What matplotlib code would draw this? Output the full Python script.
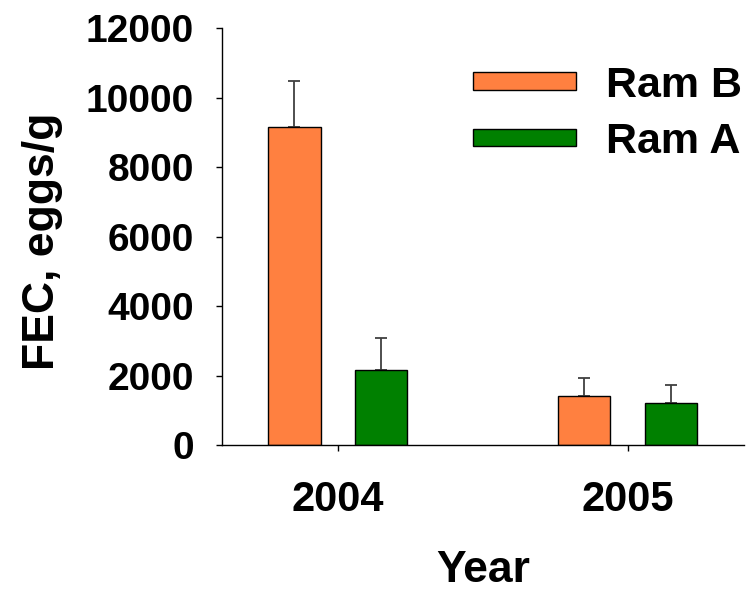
import numpy as np
import matplotlib
matplotlib.use('Agg')
import matplotlib.pyplot as plt

plt.rcParams['font.family'] = ['Liberation Sans', 'DejaVu Sans']
plt.rcParams['font.weight'] = 'bold'

# data
years = ['2004', '2005']
ram_b = [9160, 1427]
ram_b_err = [1315, 500]
ram_a = [2167, 1209]
ram_a_err = [921, 535]

col_b = '#FF8040'
col_a = '#008000'

fig = plt.figure(figsize=(7.52, 5.97), dpi=100)
ax = fig.add_axes([0.2952, 0.2541, 0.6938, 0.6985])

x = np.arange(len(years))
w = 0.18
off = 0.15

ax.bar(x - off, ram_b, w, color=col_b, edgecolor='black', linewidth=1, label='Ram B', zorder=2)
ax.bar(x + off, ram_a, w, color=col_a, edgecolor='black', linewidth=1, label='Ram A', zorder=2)

# upper error bars only
ax.errorbar(x - off, ram_b, yerr=[np.zeros(len(ram_b)), ram_b_err], fmt='none',
            ecolor='#404040', elinewidth=1.3, capsize=4.2, capthick=1.3, zorder=1)
ax.errorbar(x + off, ram_a, yerr=[np.zeros(len(ram_a)), ram_a_err], fmt='none',
            ecolor='#404040', elinewidth=1.3, capsize=4.2, capthick=1.3, zorder=1)

ax.set_xlim(-0.4, 1.4)
ax.set_ylim(0, 12000)
ax.set_yticks(np.arange(0, 12001, 2000))
ax.set_xticks(x)
ax.set_xticklabels(years)

for s in ['top', 'right']:
    ax.spines[s].set_visible(False)
for s in ['left', 'bottom']:
    ax.spines[s].set_linewidth(1.0)

ax.tick_params(axis='y', direction='out', length=4.3, width=1, labelsize=28, pad=16)
ax.tick_params(axis='x', direction='out', length=4.3, width=1, labelsize=30, pad=21)

ax.set_xlabel('Year', fontsize=32, fontweight='bold', labelpad=21)
ax.set_ylabel('FEC, eggs/g', fontsize=32, fontweight='bold')
ax.yaxis.set_label_coords(-0.305, 0.49)

leg = ax.legend(loc='center left', bbox_to_anchor=(472.7 / 752, 1 - 114 / 597),
                bbox_transform=fig.transFigure, frameon=False, fontsize=31,
                handlelength=2.4, handleheight=0.25, handletextpad=0.7,
                labelspacing=0.38, borderpad=0, borderaxespad=0)

fig.savefig('out.png', dpi=100)
